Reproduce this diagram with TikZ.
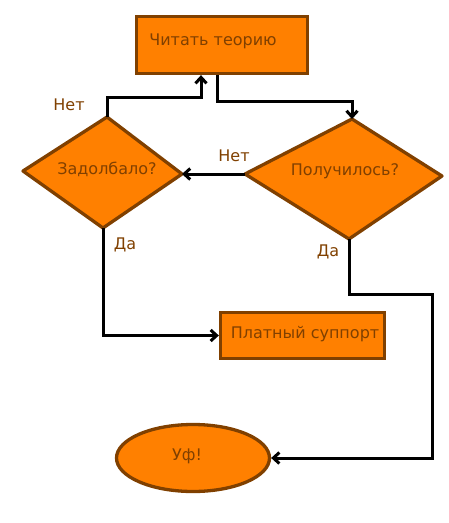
\documentclass[tikz,border=0pt]{standalone}
\usepackage{fontspec}
\setmainfont{DejaVu Sans}
\usetikzlibrary{arrows.meta,shapes.geometric}
\definecolor{fillor}{HTML}{FF8000}
\definecolor{edgebr}{HTML}{804000}
\begin{document}
\begin{tikzpicture}[x=1pt,y=-1pt,
  shapebox/.style={draw=edgebr,fill=fillor,line width=3.3pt,inner sep=0pt},
  txt/.style={text=edgebr,font=\fontsize{16}{19}\selectfont,anchor=base,inner sep=0pt},
  conn/.style={line width=3pt,black,-{Straight Barb[length=6pt,width=11pt]}}]
\useasboundingbox (0,0) rectangle (449,523);
% shapes
\node[shapebox,rectangle,minimum width=171pt,minimum height=57pt] (read) at (222,45) {};
\coordinate (aT) at (107,117);
\coordinate (aR) at (182,174);
\coordinate (aB) at (103,228);
\coordinate (aL) at (23,171);
\coordinate (bT) at (352,119);
\coordinate (bR) at (442,176);
\coordinate (bB) at (349,239);
\coordinate (bL) at (245,174);
\filldraw[draw=edgebr,fill=fillor,line width=3.3pt,line join=round] (aT) -- (aR) -- (aB) -- (aL) -- cycle;
\filldraw[draw=edgebr,fill=fillor,line width=3.3pt,line join=round] (bT) -- (bR) -- (bB) -- (bL) -- cycle;
\node[shapebox,rectangle,minimum width=164pt,minimum height=46pt] (paid) at (302.5,335.5) {};
\node[shapebox,ellipse,minimum width=153pt,minimum height=67pt] (done) at (193,458) {};
% texts
\node[txt] (readt) at (213,45) {Читать теорию};
\node[txt] (q1t) at (107,174) {Задолбало?};
\node[txt] (q2t) at (345,175) {Получилось?};
\node[txt] (paidt) at (305,338) {Платный суппорт};
\node[txt] (donet) at (187,460) {Уф!};
\node[txt] (no1) at (69,110) {Нет};
\node[txt] (no2) at (234,161) {Нет};
\node[txt] (yes1) at (125,249) {Да};
\node[txt] (yes2) at (328,256) {Да};
% connectors
\coordinate (bend) at (432,294);
\draw[conn] ([xshift=-5pt]read.south) -- ++(0,26) -| (bT);
\draw[conn] (aT) -- ++(0,-20) -| ([xshift=-21pt]read.south);
\draw[conn] (bL) -- (aR);
\draw[conn] (aB) |- (paid.west);
\draw[conn] (bB) |- (bend) |- (done.east);
\end{tikzpicture}
\end{document}
